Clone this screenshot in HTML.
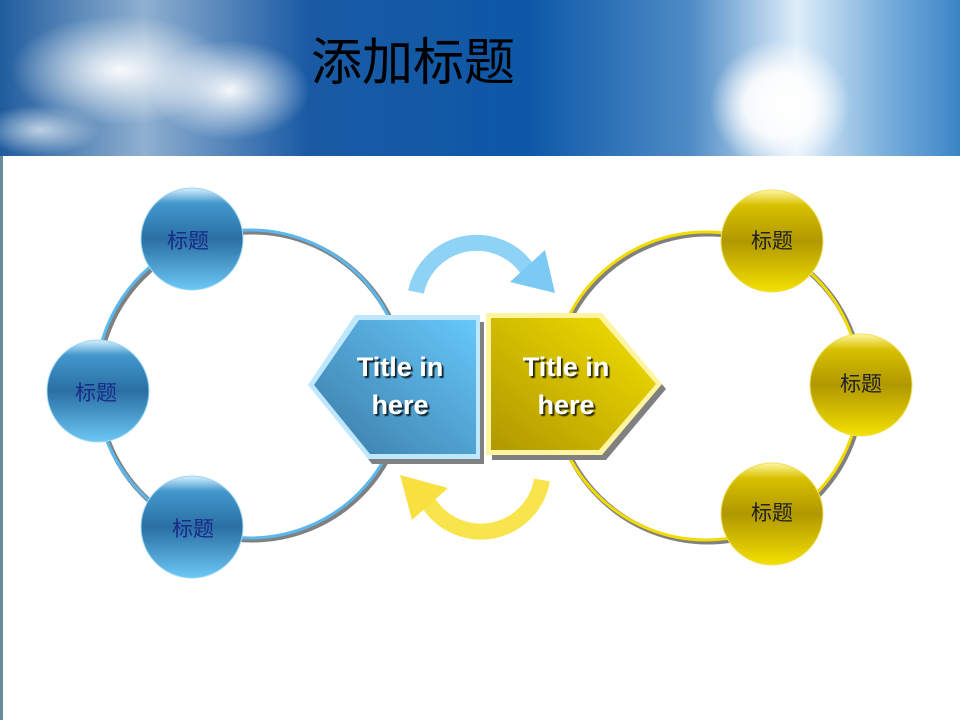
<!DOCTYPE html>
<html><head><meta charset="utf-8"><style>
body{margin:0;width:960px;height:720px;overflow:hidden;background:#fff;font-family:"Liberation Sans","Noto Sans CJK SC",sans-serif}
</style></head><body>
<svg width="960" height="720" viewBox="0 0 960 720" xmlns="http://www.w3.org/2000/svg">
<defs>
<linearGradient id="sky" x1="0" y1="0" x2="1" y2="0">
<stop offset="0" stop-color="#1f5c9e"/><stop offset="0.15" stop-color="#8fb0d0"/><stop offset="0.32" stop-color="#1a5aa4"/><stop offset="0.55" stop-color="#0d58a8"/><stop offset="0.72" stop-color="#4f8cc6"/><stop offset="0.83" stop-color="#dfeefa"/><stop offset="0.92" stop-color="#7bb0dc"/><stop offset="1" stop-color="#3a85c6"/>
</linearGradient>
<radialGradient id="sun" cx="0.5" cy="0.5" r="0.5"><stop offset="0" stop-color="#fff"/><stop offset="0.5" stop-color="#fff" stop-opacity="0.9"/><stop offset="1" stop-color="#fff" stop-opacity="0"/></radialGradient>
<radialGradient id="cl" cx="0.5" cy="0.5" r="0.5"><stop offset="0" stop-color="#fff" stop-opacity="0.95"/><stop offset="1" stop-color="#fff" stop-opacity="0"/></radialGradient>
<linearGradient id="bb" x1="0" y1="0" x2="0" y2="1"><stop offset="0" stop-color="#d8f0ff"/><stop offset="0.15" stop-color="#4298cc"/><stop offset="0.5" stop-color="#2a6fa4"/><stop offset="1" stop-color="#6cc8f4"/></linearGradient>
<linearGradient id="yb" x1="0" y1="0" x2="0" y2="1"><stop offset="0" stop-color="#fff6a0"/><stop offset="0.15" stop-color="#d8c000"/><stop offset="0.5" stop-color="#b09800"/><stop offset="1" stop-color="#f4e000"/></linearGradient>
<linearGradient id="bh" x1="1" y1="0" x2="0" y2="1"><stop offset="0" stop-color="#66c8fa"/><stop offset="1" stop-color="#3a7aa6"/></linearGradient>
<linearGradient id="yh" x1="1" y1="0" x2="0" y2="1"><stop offset="0" stop-color="#f4e000"/><stop offset="1" stop-color="#b09800"/></linearGradient>
<filter id="ts"><feDropShadow dx="2" dy="2" stdDeviation="0.5" flood-color="#000" flood-opacity="0.8"/></filter>
</defs>
<rect width="960" height="156" fill="url(#sky)"/>
<ellipse cx="120" cy="70" rx="110" ry="55" fill="url(#cl)"/>
<ellipse cx="230" cy="90" rx="80" ry="50" fill="url(#cl)"/>
<ellipse cx="40" cy="130" rx="60" ry="25" fill="url(#cl)" opacity="0.7"/>
<ellipse cx="780" cy="105" rx="70" ry="65" fill="url(#sun)"/>
<rect x="0" y="156" width="3" height="564" fill="#6a8aa0"/>
<text x="311" y="80" font-size="51" fill="#000">添加标题</text>

<circle cx="252" cy="386" r="154" fill="none" stroke="#808080" stroke-width="5"/>
<circle cx="250" cy="384" r="154" fill="none" stroke="#5ab8ec" stroke-width="3"/>
<circle cx="708" cy="388" r="154" fill="none" stroke="#808080" stroke-width="5"/>
<circle cx="706" cy="386" r="154" fill="none" stroke="#f2dc00" stroke-width="3"/>

<path d="M416 292 A62 62 0 0 1 528 270" fill="none" stroke="#8ed2f6" stroke-width="16"/>
<polygon points="510,282 555,293 545,250" fill="#7ccaf4"/>
<path d="M542 480 A62 62 0 0 1 428 502" fill="none" stroke="#f8e44c" stroke-width="16"/>
<polygon points="448,488 400,475 412,520" fill="#f8e040"/>

<polygon points="315,390 362,322 484,322 484,464 372,464" fill="#808080"/>
<polygon points="308,385 355,315 480,315 480,459 368,459" fill="#bfe8ff"/>
<polygon points="314,385 359,320 476,320 476,454 370,454" fill="url(#bh)"/>
<polygon points="492,318 606,318 666,389 606,460 492,460" fill="#808080"/>
<polygon points="486,313 602,313 662,384 602,455 486,455" fill="#fff4a0"/>
<polygon points="491,318 599,318 656,384 599,450 491,450" fill="url(#yh)"/>
<g font-weight="bold" font-size="27" fill="#fff" text-anchor="middle" filter="url(#ts)">
<text x="400" y="376">Title in</text><text x="400" y="414">here</text>
<text x="566" y="376">Title in</text><text x="566" y="414">here</text>
</g>

<g font-size="21" text-anchor="middle">
<circle cx="192" cy="239" r="51" fill="url(#bb)" stroke="#9fd8f4"/>
<text x="188" y="248" fill="#1a2a8a">标题</text>
<circle cx="98" cy="391" r="51" fill="url(#bb)" stroke="#9fd8f4"/>
<text x="96" y="400" fill="#1a2a8a">标题</text>
<circle cx="192" cy="527" r="51" fill="url(#bb)" stroke="#9fd8f4"/>
<text x="193" y="536" fill="#1a2a8a">标题</text>
<circle cx="772" cy="241" r="51" fill="url(#yb)" stroke="#f0e060"/>
<text x="772" y="248" fill="#222">标题</text>
<circle cx="861" cy="385" r="51" fill="url(#yb)" stroke="#f0e060"/>
<text x="861" y="391" fill="#222">标题</text>
<circle cx="772" cy="514" r="51" fill="url(#yb)" stroke="#f0e060"/>
<text x="772" y="520" fill="#222">标题</text>
</g>
</svg>
</body></html>
